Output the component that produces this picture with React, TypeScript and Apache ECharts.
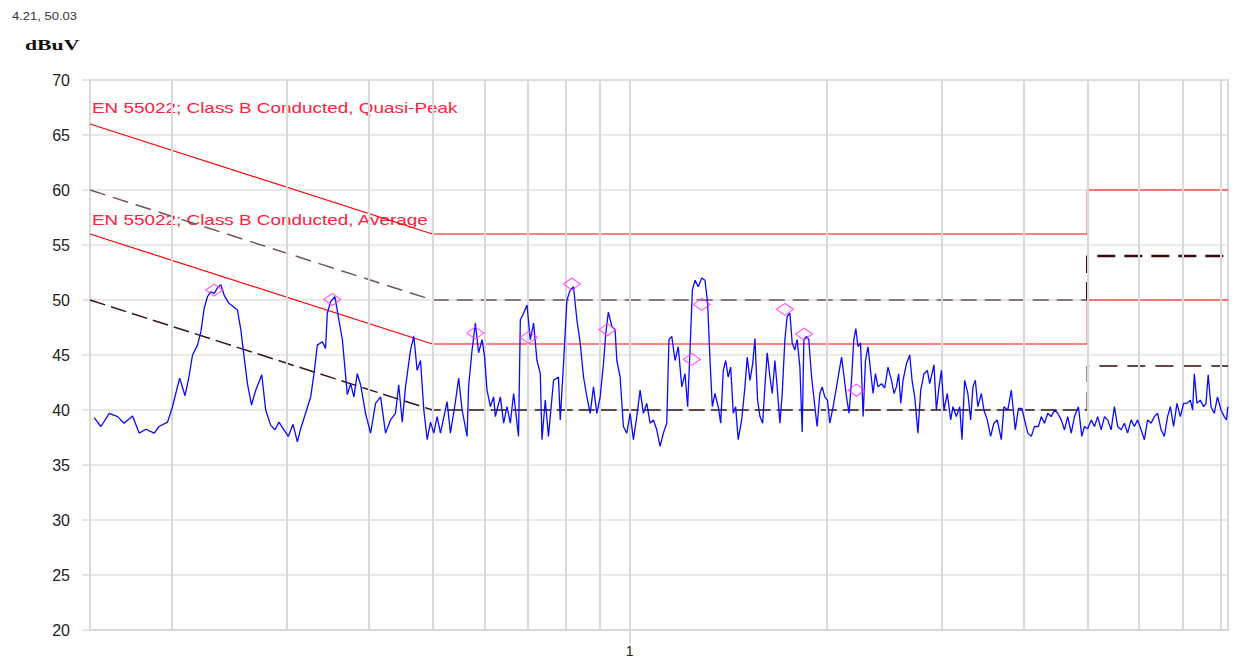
import React, { useEffect, useRef } from "react";
import * as echarts from "echarts";

// Measured trace (frequency in MHz, level in dBuV)
const traceFreq = [
  0.1522, 0.1559, 0.1605, 0.1653, 0.1691, 0.1742, 0.1783, 0.1826, 0.188, 0.1912,
  0.197, 0.2005, 0.2028, 0.2056, 0.2095, 0.2124, 0.2151, 0.2189, 0.2215, 0.2241,
  0.2267, 0.2294, 0.2321, 0.2348, 0.2376, 0.2404, 0.2445, 0.2519, 0.2549, 0.2579,
  0.2609, 0.2647, 0.2686, 0.2744, 0.2782, 0.2832, 0.2875, 0.2915, 0.2967, 0.3012,
  0.3063, 0.311, 0.3146, 0.3201, 0.3259, 0.3297, 0.3336, 0.3395, 0.3434, 0.3455,
  0.3496, 0.3549, 0.3591, 0.3643, 0.3707, 0.375, 0.3794, 0.3839, 0.3884, 0.3952,
  0.4023, 0.4094, 0.4167, 0.424, 0.4315, 0.4391, 0.4441, 0.4497, 0.4549, 0.4629,
  0.4683, 0.4739, 0.4795, 0.4851, 0.4909, 0.4966, 0.5024, 0.5084, 0.5143, 0.5265,
  0.5327, 0.5421, 0.5483, 0.555, 0.5648, 0.5678, 0.5748, 0.5815, 0.5881, 0.5954,
  0.6007, 0.6058, 0.613, 0.6201, 0.6238, 0.6349, 0.6423, 0.6499, 0.6576, 0.6652,
  0.6768, 0.6811, 0.689, 0.6972, 0.7054, 0.7136, 0.7221, 0.7306, 0.735, 0.7435,
  0.7519, 0.7655, 0.7788, 0.7837, 0.7928, 0.8023, 0.8117, 0.8211, 0.8309, 0.8407,
  0.8505, 0.8606, 0.8707, 0.8808, 0.8913, 0.9018, 0.9123, 0.9199, 0.9281, 0.9397,
  0.9505, 0.9562, 0.9674, 0.9786, 0.9903, 1.002, 1.0136, 1.0257, 1.0378, 1.0498,
  1.0624, 1.0749, 1.0874, 1.1004, 1.1133, 1.1262, 1.1397, 1.1486, 1.16, 1.1734,
  1.1868, 1.2015, 1.2153, 1.2267, 1.237, 1.247, 1.2588, 1.2731, 1.2889, 1.3037,
  1.3159, 1.327, 1.3377, 1.3504, 1.3657, 1.3778, 1.3903, 1.402, 1.4145, 1.427,
  1.44, 1.4521, 1.4651, 1.4832, 1.5003, 1.5123, 1.5271, 1.5416, 1.554, 1.5685,
  1.5817, 1.5967, 1.6095, 1.6224, 1.6382, 1.6515, 1.667, 1.6803, 1.6967, 1.7104,
  1.7266, 1.7403, 1.7573, 1.7715, 1.7882, 1.8025, 1.8201, 1.8348, 1.8458, 1.8632,
  1.8778, 1.8965, 1.9184, 1.9337, 1.9525, 1.9683, 1.9869, 2.0054, 2.0223, 2.0458,
  2.0702, 2.0864, 2.1072, 2.1262, 2.1442, 2.1635, 2.1824, 2.2, 2.2154, 2.2328,
  2.2526, 2.2731, 2.2922, 2.3126, 2.3331, 2.3543, 2.3741, 2.3953, 2.4249, 2.4528,
  2.4808, 2.5116, 2.5343, 2.5558, 2.5758, 2.5949, 2.6158, 2.6471, 2.6782, 2.6999,
  2.7253, 2.7564, 2.7836, 2.8158, 2.8491, 2.873, 2.9164, 2.9411, 2.9641, 2.9936,
  3.0206, 3.0563, 3.0928, 3.1178, 3.155, 3.1922, 3.2181, 3.2484, 3.2854, 3.3179,
  3.3447, 3.3728, 3.4028, 3.4449, 3.4761, 3.5172, 3.5592, 3.6004, 3.6429, 3.6955,
  3.729, 3.7808, 3.8276, 3.8813, 3.9254, 3.9727, 4.0102, 4.0559, 4.1061, 4.1534,
  4.211, 4.2529, 4.3019, 4.3509, 4.4048, 4.4556, 4.5064, 4.5622, 4.6148, 4.6674,
  4.7253, 4.7798, 4.846, 4.9043, 4.9505, 5.007, 5.069, 5.1275, 5.1859, 5.25,
  5.311, 5.371, 5.437, 5.5, 5.563, 5.632, 5.697, 5.761, 5.833, 5.9,
  5.967, 6.041, 6.111, 6.18, 6.257, 6.329, 6.402, 6.481, 6.555, 6.63,
  6.695, 6.773, 6.853, 6.935, 7.015, 7.098, 7.183, 7.241, 7.284, 7.352,
  7.439, 7.525, 7.589, 7.648, 7.724, 7.813, 7.902, 8.001, 8.093, 8.157,
  8.195,
];
const traceLevel = [
  39.3, 38.5, 39.7, 39.4, 38.8, 39.45, 37.9, 38.25, 37.9, 38.5,
  38.9, 40.3, 41.5, 42.9, 41.3, 43.0, 45.0, 45.9, 47.1, 49.25,
  50.3, 50.75, 50.6, 51.1, 51.4, 50.45, 49.7, 49.1, 47.3, 44.8,
  42.4, 40.45, 41.8, 43.2, 40.0, 38.6, 38.2, 38.9, 38.2, 37.6,
  38.7, 37.1, 38.3, 39.7, 41.2, 43.3, 45.9, 46.2, 45.6, 48.8,
  49.85, 50.3, 48.5, 46.4, 41.4, 42.4, 41.2, 43.3, 42.3, 39.7,
  37.9, 40.6, 41.2, 37.9, 39.1, 39.7, 42.3, 38.9, 42.1, 45.45,
  46.7, 43.6, 44.5, 40.0, 37.3, 38.9, 37.9, 39.4, 37.9, 40.75,
  37.9, 40.75, 42.9, 40.0, 37.6, 42.1, 45.45, 47.9, 45.2, 46.4,
  44.8, 41.8, 40.3, 41.2, 39.4, 41.2, 38.8, 40.3, 38.8, 41.5,
  37.6, 48.2, 48.8, 49.55, 46.4, 47.9, 44.5, 43.3, 37.3, 40.9,
  37.6, 42.7, 43.0, 39.1, 44.2, 50.0, 50.9, 51.2, 48.2, 46.1,
  43.0, 41.2, 39.7, 42.1, 39.7, 41.2, 44.2, 47.0, 48.9, 47.6,
  47.3, 44.5, 43.0, 38.5, 37.9, 39.7, 37.3, 39.4, 41.8, 39.7,
  40.6, 38.8, 39.1, 38.2, 36.7, 37.9, 38.8, 46.4, 46.7, 44.5,
  45.75, 42.1, 43.3, 40.3, 45.5, 50.9, 51.8, 51.2, 52.0, 51.8,
  49.7, 44.5, 40.3, 41.5, 40.3, 38.8, 43.6, 44.5, 43.0, 43.9,
  39.7, 40.3, 37.3, 39.1, 42.1, 44.8, 42.7, 44.2, 46.5, 40.9,
  39.4, 38.8, 42.1, 45.2, 43.0, 41.5, 44.5, 42.1, 38.8, 41.5,
  46.4, 48.5, 48.8, 46.1, 45.45, 46.4, 43.9, 38.0, 46.4, 46.7,
  46.4, 43.0, 40.3, 38.5, 41.5, 42.1, 41.2, 40.9, 38.8, 40.3,
  42.1, 43.3, 44.8, 43.0, 41.2, 39.7, 42.7, 46.4, 47.4, 45.75,
  46.1, 39.4, 44.5, 45.75, 43.6, 41.5, 43.3, 42.1, 42.4, 42.0,
  43.9, 42.7, 41.5, 42.1, 43.3, 40.6, 42.7, 44.2, 45.0, 42.7,
  41.2, 37.9, 41.8, 43.3, 43.6, 42.4, 44.1, 40.0, 41.8, 43.6,
  40.0, 41.5, 39.1, 40.3, 39.4, 40.3, 37.3, 42.7, 41.5, 39.1,
  42.1, 42.7, 40.3, 41.5, 40.0, 39.1, 37.6, 38.8, 39.1, 37.3,
  40.3, 40.0, 41.8, 38.2, 40.15, 40.15, 39.1, 37.9, 37.6, 38.5,
  38.5, 39.4, 38.8, 39.7, 39.4, 40.0, 39.7, 39.1, 38.2, 39.4,
  37.9, 39.4, 40.3, 37.6, 38.5, 38.3, 39.1, 38.5, 39.4, 38.2,
  39.4, 39.1, 38.2, 40.3, 38.5, 38.2, 38.8, 37.9, 39.1, 38.5,
  39.1, 38.2, 37.3, 39.1, 38.8, 39.4, 39.7, 38.2, 37.6, 39.4,
  40.3, 38.5, 40.6, 39.4, 40.6, 40.6, 40.9, 40.0, 43.3, 40.6,
  40.9, 40.3, 40.6, 43.2, 40.3, 39.7, 41.2, 40.0, 39.4, 39.1,
  40.3,
];

// Peak markers
const peakFreq = [0.2321, 0.3517, 0.5815, 0.7012, 0.8166, 0.925, 1.2444, 1.2889, 1.7266, 1.8468, 2.2208];
const peakLevel = [50.9, 50.05, 47.0, 46.6, 51.45, 47.3, 44.6, 49.6, 49.15, 46.9, 41.8];

// EN 55022 Class B limits
const limitFreq = [0.15, 0.5, 5, 5, 8.2];
const qpLimit = [66, 56, 56, 60, 60];
const avLimit = [56, 46, 46, 50, 50];
const marginFreqLow = [0.15, 0.5, 5];
const qpMarginLow = [60, 50, 50];
const avMarginLow = [50, 40, 40];
const marginFreqHigh = [5, 5, 8.2];
const qpMarginHigh = [50, 54, 54];
const avMarginHigh = [40, 44, 44];

// Axis settings
const gridFreqs = [0.2, 0.3, 0.4, 0.5, 0.6, 0.7, 0.8, 0.9, 1, 2, 3, 4, 5, 6, 7, 8];
const xLabelValues = [1];

const zip = (a: number[], b: number[]) => a.map((v, i) => [v, b[i]]);

export default function App() {
  const ref = useRef<HTMLDivElement>(null);
  useEffect(() => {
    const chart = echarts.init(ref.current as HTMLDivElement, null, { renderer: "svg" });
    const option: any = {
      animation: false,
      backgroundColor: "#ffffff",
      grid: {
        left: 90,
        top: 80,
        right: 7,
        bottom: 29,
        show: true,
        borderColor: "#d9d9d9",
        borderWidth: 2,
        containLabel: false,
        outerBoundsMode: "none",
      },
      xAxis: {
        type: "log",
        logBase: 10,
        min: 0.15,
        max: 8.2,
        axisLine: { show: true, lineStyle: { color: "#d9d9d9", width: 2 } },
        axisTick: {
          show: true,
          length: 13,
          customValues: xLabelValues,
          lineStyle: { color: "#d9d9d9", width: 2 },
        },
        axisLabel: {
          show: true,
          customValues: xLabelValues,
          margin: 14,
          fontSize: 14,
          fontFamily: "Liberation Sans",
          color: "#222",
          formatter: (v: number) => (Math.abs(v - 1) < 1e-6 ? "1" : ""),
        },
        splitLine: { show: false },
      },
      yAxis: {
        type: "value",
        min: 20,
        max: 70,
        interval: 5,
        axisLine: { show: true, lineStyle: { color: "#d9d9d9", width: 2 } },
        axisTick: { show: true, length: 8, lineStyle: { color: "#dddddd", width: 1.5 } },
        axisLabel: { margin: 20, fontSize: 16, fontFamily: "Liberation Sans", color: "#222" },
        splitLine: { show: true, lineStyle: { color: "#e0e0e0", width: 1.5 } },
      },
      graphic: [
        {
          type: "text",
          x: 12,
          y: 17,
          scaleX: 1.3,
          style: { text: "4.21, 50.03", fill: "#333", fontSize: 10, fontFamily: "Liberation Sans", verticalAlign: "middle" },
        },
        {
          type: "text",
          x: 25,
          y: 45,
          scaleX: 1.45,
          style: { text: "dBuV", fill: "#111", fontSize: 15, fontWeight: "bold", fontFamily: "Liberation Serif", verticalAlign: "middle" },
        },
        {
          type: "text",
          x: 92,
          y: 108,
          scaleX: 1.35,
          z: 3,
          style: { text: "EN 55022; Class B Conducted, Quasi-Peak", fill: "#ff2040", fontSize: 14, fontFamily: "Liberation Sans", verticalAlign: "middle" },
        },
        {
          type: "text",
          x: 92,
          y: 220,
          scaleX: 1.35,
          z: 3,
          style: { text: "EN 55022; Class B Conducted, Average", fill: "#ff2040", fontSize: 14, fontFamily: "Liberation Sans", verticalAlign: "middle" },
        },
      ],
      series: [
        {
          name: "grid",
          type: "line",
          z: 1,
          silent: true,
          data: [[1, 20]],
          showSymbol: false,
          lineStyle: { opacity: 0 },
          markLine: {
            silent: true,
            symbol: ["none", "none"],
            label: { show: false },
            lineStyle: { color: "#d9d9d9", width: 2, type: "solid" },
            data: gridFreqs.map((f) => ({ xAxis: f })),
          },
        },
        {
          name: "QP limit",
          type: "line",
          z: 3,
          data: zip(limitFreq, qpLimit),
          showSymbol: false,
          lineStyle: { color: "#ff0000", width: 1.2 },
        },
        {
          name: "AV limit",
          type: "line",
          z: 3,
          data: zip(limitFreq, avLimit),
          showSymbol: false,
          lineStyle: { color: "#ff0000", width: 1.2 },
        },
        {
          name: "QP margin",
          type: "line",
          z: 3,
          data: zip(marginFreqLow, qpMarginLow),
          showSymbol: false,
          lineStyle: { color: "#6e5656", width: 1.5, type: [16, 8] },
        },
        {
          name: "QP margin high",
          type: "line",
          z: 3,
          data: zip(marginFreqHigh, qpMarginHigh),
          showSymbol: false,
          lineStyle: { color: "#3a0808", width: 2.5, type: [18, 9] },
        },
        {
          name: "AV margin",
          type: "line",
          z: 3,
          data: zip(marginFreqLow, avMarginLow),
          showSymbol: false,
          lineStyle: { color: "#3a1212", width: 1.5, type: [16, 6] },
        },
        {
          name: "AV margin high",
          type: "line",
          z: 3,
          data: zip(marginFreqHigh, avMarginHigh),
          showSymbol: false,
          lineStyle: { color: "#3a0808", width: 1.5, type: [18, 10] },
        },
        {
          name: "trace",
          type: "line",
          z: 5,
          data: zip(traceFreq, traceLevel),
          showSymbol: false,
          lineStyle: { color: "#0a0aff", width: 1.3 },
        },
        {
          name: "peaks",
          type: "scatter",
          z: 6,
          data: zip(peakFreq, peakLevel),
          symbol: "diamond",
          symbolSize: [17, 12],
          itemStyle: { color: "rgba(0,0,0,0)", borderColor: "#ff33ff", borderWidth: 1.2 },
        },
      ],
    };
    chart.setOption(option);
    return () => chart.dispose();
  }, []);
  return <div ref={ref} style={{ position: "fixed", left: 0, top: 0, width: 1235, height: 659 }} />;
}
